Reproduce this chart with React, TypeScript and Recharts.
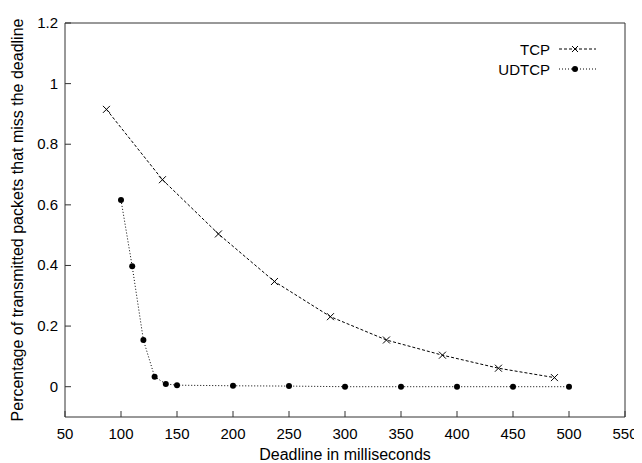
import { Legend, Line, LineChart, XAxis, YAxis } from "recharts";

const tcpDeadlines = [87, 137, 187, 237, 287, 337, 387, 437, 487];
const tcpMiss = [0.915, 0.683, 0.504, 0.347, 0.231, 0.154, 0.104, 0.061, 0.03];

const udtcpDeadlines = [100, 110, 120, 130, 140, 150, 200, 250, 300, 350, 400, 450, 500];
const udtcpMiss = [0.616, 0.397, 0.154, 0.033, 0.009, 0.005, 0.003, 0.002, 0, 0, 0, 0, 0];

const xTicks = [50, 100, 150, 200, 250, 300, 350, 400, 450, 500, 550];
const yTicks = [0, 0.2, 0.4, 0.6, 0.8, 1, 1.2];

const tcpData = tcpDeadlines.map((d, i) => ({ deadline: d, miss: tcpMiss[i] }));
const udtcpData = udtcpDeadlines.map((d, i) => ({ deadline: d, miss: udtcpMiss[i] }));

const FONT = '"Liberation Sans", Arial, Helvetica, sans-serif';
const FRAME = "#333";
const TICK = 6;

function BottomTick({ x, y, payload }: any) {
  return (
    <g>
      <line x1={x} y1={y} x2={x} y2={y - TICK} stroke={FRAME} />
      <text x={x} y={y + 22} textAnchor="middle" fontSize={15} fontFamily={FONT} fill="#000">
        {payload.value}
      </text>
    </g>
  );
}

function TopTick({ x, y }: any) {
  return <line x1={x} y1={y} x2={x} y2={y + TICK} stroke={FRAME} />;
}

function LeftTick({ x, y, payload }: any) {
  return (
    <g>
      <line x1={x} y1={y} x2={x + TICK} y2={y} stroke={FRAME} />
      <text x={x - 7} y={y + 5} textAnchor="end" fontSize={15} fontFamily={FONT} fill="#000">
        {payload.value}
      </text>
    </g>
  );
}

function RightTick({ x, y }: any) {
  return <line x1={x} y1={y} x2={x - TICK} y2={y} stroke={FRAME} />;
}

function CrossDot({ cx, cy }: any) {
  if (cx == null || cy == null) return null;
  const r = 3.5;
  return (
    <g stroke="#000" strokeWidth={1}>
      <line x1={cx - r} y1={cy - r} x2={cx + r} y2={cy + r} />
      <line x1={cx - r} y1={cy + r} x2={cx + r} y2={cy - r} />
    </g>
  );
}

function FilledDot({ cx, cy }: any) {
  if (cx == null || cy == null) return null;
  return <circle cx={cx} cy={cy} r={3} fill="#000" />;
}

function xTitle({ viewBox }: any) {
  return (
    <text x={viewBox.x + viewBox.width / 2} y={viewBox.y + 43} textAnchor="middle" fontSize={16} fontFamily={FONT} fill="#000">
      Deadline in milliseconds
    </text>
  );
}

function yTitle({ viewBox }: any) {
  const cx = 15;
  const cy = viewBox.y + viewBox.height / 2;
  return (
    <text x={cx} y={cy} transform={`rotate(-90 ${cx} ${cy})`} textAnchor="middle" fontSize={16} fontFamily={FONT} fill="#000">
      Percentage of transmitted packets that miss the deadline
    </text>
  );
}

function LegendBox() {
  const rows = [
    { name: "TCP", dash: "3 2", mark: "x" },
    { name: "UDTCP", dash: "1 2", mark: "o" },
  ];
  return (
    <div style={{ fontFamily: FONT, fontSize: 15, color: "#000" }}>
      {rows.map((r) => (
        <div key={r.name} style={{ display: "flex", justifyContent: "flex-end", alignItems: "center", height: 20 }}>
          <span>{r.name}</span>
          <svg width={40} height={20} style={{ marginLeft: 7 }}>
            <line x1={2} y1={10} x2={39} y2={10} stroke="#000" strokeDasharray={r.dash} />
            {r.mark === "x" ? (
              <g stroke="#000">
                <line x1={15} y1={7} x2={21} y2={13} />
                <line x1={15} y1={13} x2={21} y2={7} />
              </g>
            ) : (
              <circle cx={18} cy={10} r={3} fill="#000" />
            )}
          </svg>
        </div>
      ))}
    </div>
  );
}

export default function App() {
  return (
    <div style={{ position: "relative", width: 634, height: 455 }}>
      <LineChart width={634} height={455} margin={{ top: 0, right: 0, bottom: 0, left: 0 }}>
        <XAxis
          dataKey="deadline"
          type="number"
          domain={[50, 550]}
          ticks={xTicks}
          interval={0}
          height={46}
          tickSize={0}
          tickMargin={0}
          tickLine={false}
          tick={<BottomTick />}
          axisLine={{ stroke: FRAME }}
          label={{ value: "Deadline in milliseconds", content: xTitle }}
        />
        <XAxis
          xAxisId="top"
          orientation="top"
          type="number"
          domain={[50, 550]}
          ticks={xTicks}
          interval={0}
          height={15}
          tickSize={0}
          tickMargin={0}
          tickLine={false}
          tick={<TopTick />}
          axisLine={{ stroke: FRAME }}
        />
        <YAxis
          type="number"
          domain={[-0.1, 1.2]}
          ticks={yTicks}
          interval={0}
          width={57}
          tickSize={0}
          tickMargin={0}
          tickLine={false}
          tick={<LeftTick />}
          axisLine={{ stroke: FRAME }}
          label={{ value: "Percentage of transmitted packets that miss the deadline", content: yTitle }}
        />
        <YAxis
          yAxisId="right"
          orientation="right"
          type="number"
          domain={[-0.1, 1.2]}
          ticks={yTicks}
          interval={0}
          width={17}
          tickSize={0}
          tickMargin={0}
          tickLine={false}
          tick={<RightTick />}
          axisLine={{ stroke: FRAME }}
        />
        <Legend
          layout="vertical"
          align="center"
          verticalAlign="middle"
          content={<LegendBox />}
          wrapperStyle={{ left: 439, top: 31, width: 150, height: 40 }}
        />
        <Line
          data={tcpData}
          dataKey="miss"
          name="TCP"
          stroke="#000"
          strokeWidth={1}
          strokeDasharray="3 2"
          dot={<CrossDot />}
          isAnimationActive={false}
        />
        <Line
          data={udtcpData}
          dataKey="miss"
          name="UDTCP"
          stroke="#000"
          strokeWidth={1}
          strokeDasharray="1 2"
          dot={<FilledDot />}
          isAnimationActive={false}
        />
      </LineChart>
    </div>
  );
}
